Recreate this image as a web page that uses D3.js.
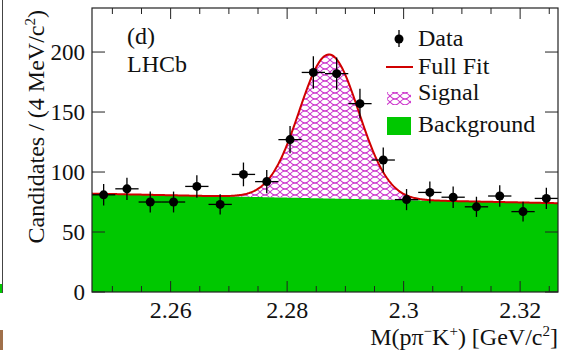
<!DOCTYPE html>
<html>
<head>
<meta charset="utf-8">
<script src="https://cdn.jsdelivr.net/npm/d3@7"></script>
<style>
  body { margin: 0; background: #fff; }
  svg { display: block; font-family: "Liberation Serif", "Times New Roman", serif; }
</style>
</head>
<body>
<div id="chart-area"></div>
<script>
// bin centres (GeV/c^2), 4 MeV bins
const binCentres = [2.2485, 2.2525, 2.2565, 2.2605, 2.2645, 2.2685, 2.2725, 2.2765, 2.2805, 2.2845,
                    2.2885, 2.2925, 2.2965, 2.3005, 2.3045, 2.3085, 2.3125, 2.3165, 2.3205, 2.3245];
const counts = [81, 86, 75, 75, 88, 73, 98, 92, 127, 183, 182, 157, 110, 77, 83, 79, 71, 80, 67, 78];
const errors = [9, 9.3, 8.7, 8.7, 9.4, 8.5, 9.9, 9.6, 11.3, 13.5, 13.5, 12.5, 10.5, 8.8, 9.1, 8.9, 8.4, 8.9, 8.2, 8.8];
const binHalfWidth = 0.002;

// fit parameters
const bgLeft = 82, bgRight = 74;        // linear background at the plot edges
const sigAmp = 120, sigMean = 2.2872, sigSigma = 0.0051;

const xTickMajor = [2.26, 2.28, 2.30, 2.32];
const xTickLabels = ["2.26", "2.28", "2.3", "2.32"];
const yTicks = [0, 50, 100, 150, 200];
const legendItems = ["Data", "Full Fit", "Signal", "Background"];

const W = 562, H = 354;
const pLeft = 92, pRight = 558, pTop = 8, pBottom = 292;
const xMin = 2.2465, xMax = 2.3265;
const fs = 24;

const svg = d3.select("#chart-area").append("svg")
    .attr("width", W).attr("height", H);

const x = d3.scaleLinear().domain([xMin, xMax]).range([pLeft, pRight]);
const y = d3.scaleLinear().domain([0, 236.7]).range([pBottom, pTop]);

function bg(m) { return bgLeft + (bgRight - bgLeft) * (m - xMin) / (xMax - xMin); }
function sig(m) { return sigAmp * Math.exp(-0.5 * Math.pow((m - sigMean) / sigSigma, 2)); }

// hatch pattern for signal
const defs = svg.append("defs");
const pat = defs.append("pattern").attr("id", "hatch")
    .attr("patternUnits", "userSpaceOnUse").attr("width", 10).attr("height", 6);
pat.append("path").attr("d", "M0,0 Q5,6 10,0").attr("fill", "none").attr("stroke", "#cc33cc").attr("stroke-width", 1.1);
pat.append("path").attr("d", "M0,6 Q5,0 10,6").attr("fill", "none").attr("stroke", "#cc33cc").attr("stroke-width", 1.1);

defs.append("clipPath").attr("id", "clip").append("rect")
    .attr("x", pLeft).attr("y", pTop).attr("width", pRight - pLeft).attr("height", pBottom - pTop);

// neighbouring panel edge on the far left
svg.append("rect").attr("x", 0).attr("y", 284).attr("width", 3).attr("height", 9).attr("fill", "#00c800");
svg.append("line").attr("x1", 2.5).attr("x2", 2.5).attr("y1", 0).attr("y2", 293).attr("stroke", "#444").attr("stroke-width", 1);
svg.append("rect").attr("x", 0).attr("y", 330).attr("width", 3).attr("height", 20).attr("fill", "#a0704a");

const samples = d3.range(0, 401).map(i => xMin + (xMax - xMin) * i / 400);
const plot = svg.append("g").attr("clip-path", "url(#clip)");

// background
plot.append("path").datum(samples)
    .attr("d", d3.area().x(d => x(d)).y0(y(0)).y1(d => y(bg(d))))
    .attr("fill", "#00c800");

// signal (hatched between background and total)
plot.append("path").datum(samples)
    .attr("d", d3.area().x(d => x(d)).y0(d => y(bg(d))).y1(d => y(bg(d) + sig(d))))
    .attr("fill", "url(#hatch)");

// full fit
plot.append("path").datum(samples)
    .attr("d", d3.line().x(d => x(d)).y(d => y(bg(d) + sig(d))))
    .attr("fill", "none").attr("stroke", "#d00000").attr("stroke-width", 2);

// data points
const pts = svg.append("g");
binCentres.forEach(function (m, i) {
    pts.append("line").attr("x1", x(m - binHalfWidth)).attr("x2", x(m + binHalfWidth))
        .attr("y1", y(counts[i])).attr("y2", y(counts[i])).attr("stroke", "#000").attr("stroke-width", 1.3);
    pts.append("line").attr("x1", x(m)).attr("x2", x(m))
        .attr("y1", y(counts[i] - errors[i])).attr("y2", y(counts[i] + errors[i])).attr("stroke", "#000").attr("stroke-width", 1.3);
    pts.append("circle").attr("cx", x(m)).attr("cy", y(counts[i])).attr("r", 4.5).attr("fill", "#000");
});

// frame
svg.append("rect").attr("x", pLeft).attr("y", pTop).attr("width", pRight - pLeft).attr("height", pBottom - pTop)
    .attr("fill", "none").attr("stroke", "#222").attr("stroke-width", 1.2);

// x ticks (minor every 5 MeV, both edges)
const xMinor = d3.range(0, 16).map(i => 2.25 + 0.005 * i);
xMinor.forEach(function (t) {
    const isMajor = xTickMajor.some(v => Math.abs(v - t) < 1e-6);
    const len = isMajor ? 11 : 6;
    svg.append("line").attr("x1", x(t)).attr("x2", x(t)).attr("y1", pBottom).attr("y2", pBottom - len).attr("stroke", "#222");
    svg.append("line").attr("x1", x(t)).attr("x2", x(t)).attr("y1", pTop).attr("y2", pTop + len).attr("stroke", "#222");
});
xTickMajor.forEach(function (t, i) {
    svg.append("text").attr("x", x(t)).attr("y", 318).attr("text-anchor", "middle")
        .attr("font-size", fs).attr("fill", "#111").text(xTickLabels[i]);
});

// y ticks
yTicks.forEach(function (t) {
    svg.append("line").attr("x1", pLeft).attr("x2", pLeft + 13).attr("y1", y(t)).attr("y2", y(t)).attr("stroke", "#222");
    svg.append("line").attr("x1", pRight).attr("x2", pRight - 13).attr("y1", y(t)).attr("y2", y(t)).attr("stroke", "#222");
    svg.append("text").attr("x", 85).attr("y", y(t) + 8).attr("text-anchor", "end")
        .attr("font-size", 23).attr("fill", "#111").text(t);
});

// axis titles
const xt = svg.append("text").attr("x", pRight).attr("y", 345).attr("text-anchor", "end")
    .attr("font-size", fs).attr("fill", "#111");
xt.append("tspan").text("M(p\u03c0");
xt.append("tspan").attr("dy", -9).attr("font-size", 15).text("\u2212");
xt.append("tspan").attr("dy", 9).text("K");
xt.append("tspan").attr("dy", -9).attr("font-size", 15).text("+");
xt.append("tspan").attr("dy", 9).text(") [GeV/c");
xt.append("tspan").attr("dy", -9).attr("font-size", 15).text("2");
xt.append("tspan").attr("dy", 9).text("]");

const yt = svg.append("text").attr("transform", "translate(44,10) rotate(-90)")
    .attr("text-anchor", "end").attr("font-size", fs).attr("fill", "#111");
yt.append("tspan").text("Candidates / (4 MeV/c");
yt.append("tspan").attr("dy", -9).attr("font-size", 15).text("2");
yt.append("tspan").attr("dy", 9).text(")");

// labels
svg.append("text").attr("x", 127).attr("y", 44).attr("font-size", fs).attr("fill", "#111").text("(d)");
svg.append("text").attr("x", 127).attr("y", 72).attr("font-size", fs).attr("fill", "#111").text("LHCb");

// legend
const lx = 399, tx = 418;
const lg = svg.append("g");
lg.append("line").attr("x1", lx).attr("x2", lx).attr("y1", 30).attr("y2", 47).attr("stroke", "#000").attr("stroke-width", 1.3);
lg.append("circle").attr("cx", lx).attr("cy", 39).attr("r", 4.5).attr("fill", "#000");
lg.append("line").attr("x1", 386).attr("x2", 413).attr("y1", 67).attr("y2", 67).attr("stroke", "#d00000").attr("stroke-width", 2);
lg.append("rect").attr("x", 387).attr("y", 92).attr("width", 24).attr("height", 13).attr("fill", "url(#hatch)");
lg.append("rect").attr("x", 387).attr("y", 117).attr("width", 24).attr("height", 18).attr("fill", "#00c800");
[46, 74, 100, 132].forEach(function (by, i) {
    lg.append("text").attr("x", tx).attr("y", by).attr("font-size", fs).attr("fill", "#111").text(legendItems[i]);
});
</script>
</body>
</html>
